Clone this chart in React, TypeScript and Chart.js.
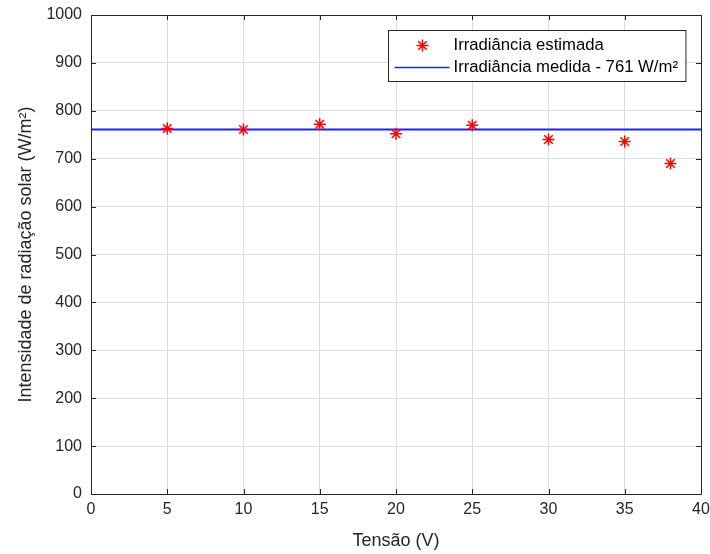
import React, { useEffect, useRef } from "react";
import { Chart, registerables } from "chart.js";

Chart.register(...registerables);

const voltages = [5, 10, 15, 20, 25, 30, 35, 38];
const estimated = [763, 761, 772, 752, 770, 740, 736, 690];
const measured = 761;
const xRange = [0, 40];
const labelEstimated = "Irradiância estimada";
const labelMeasured = "Irradiância medida - 761 W/m²";
const xTitle = "Tensão (V)";
const yTitle = "Intensidade de radiação solar (W/m²)";

const FONT = "'Liberation Sans', Arial, sans-serif";
const AXIS = "#262626";

const framePlugin = {
  id: "frame",
  afterDraw(chart: any) {
    const { ctx, chartArea: a, scales } = chart;
    ctx.save();
    ctx.strokeStyle = AXIS;
    ctx.lineWidth = 1;
    ctx.beginPath();
    ctx.rect(Math.round(a.left) + 0.5, Math.round(a.top) + 0.5, Math.round(a.right - a.left), Math.round(a.bottom - a.top));
    ctx.stroke();
    const tl = 5;
    ctx.beginPath();
    scales.x.ticks.forEach((t: any) => {
      const px = Math.round(scales.x.getPixelForValue(t.value)) + 0.5;
      ctx.moveTo(px, a.bottom);
      ctx.lineTo(px, a.bottom - tl);
      ctx.moveTo(px, a.top);
      ctx.lineTo(px, a.top + tl);
    });
    scales.y.ticks.forEach((t: any) => {
      const py = Math.round(scales.y.getPixelForValue(t.value)) + 0.5;
      ctx.moveTo(a.left, py);
      ctx.lineTo(a.left + tl, py);
      ctx.moveTo(a.right, py);
      ctx.lineTo(a.right - tl, py);
    });
    ctx.stroke();
    ctx.restore();
  },
};

const legendPlugin = {
  id: "boxLegend",
  afterDatasetsDraw(chart: any) {
    const { ctx, chartArea: a } = chart;
    const ds = chart.data.datasets;
    ctx.save();
    ctx.font = `16.7px ${FONT}`;
    const tw = Math.max(...ds.map((d: any) => ctx.measureText(d.label).width));
    const w = 65 + tw + 8;
    const h = 51;
    const right = a.right - 16;
    const left = Math.round(right - w) + 0.5;
    const top = Math.round(a.top + 15) + 0.5;
    ctx.fillStyle = "#ffffff";
    ctx.fillRect(left, top, w, h);
    ctx.strokeStyle = AXIS;
    ctx.lineWidth = 1;
    ctx.strokeRect(left, top, w, h);
    const y1 = top + 15;
    const y2 = top + 37;
    const sx = left + 34;
    const r = 6;
    ctx.strokeStyle = ds[0].borderColor;
    ctx.lineWidth = 1.5;
    ctx.beginPath();
    for (let k = 0; k < 4; k++) {
      const ang = (k * Math.PI) / 4;
      ctx.moveTo(sx - r * Math.cos(ang), y1 - r * Math.sin(ang));
      ctx.lineTo(sx + r * Math.cos(ang), y1 + r * Math.sin(ang));
    }
    ctx.stroke();
    ctx.strokeStyle = ds[1].borderColor;
    ctx.lineWidth = 1.5;
    ctx.beginPath();
    ctx.moveTo(left + 6, y2);
    ctx.lineTo(left + 61, y2);
    ctx.stroke();
    ctx.fillStyle = "#000000";
    ctx.textBaseline = "middle";
    ctx.textAlign = "left";
    ctx.fillText(ds[0].label, left + 65, y1);
    ctx.fillText(ds[1].label, left + 65, y2);
    ctx.restore();
  },
};

export default function App() {
  const ref = useRef<HTMLCanvasElement | null>(null);
  useEffect(() => {
    if (!ref.current) return;
    const chart = new Chart(ref.current, {
      type: "scatter",
      data: {
        datasets: [
          {
            label: labelEstimated,
            data: voltages.map((v, i) => ({ x: v, y: estimated[i] })),
            pointStyle: "star",
            pointRadius: 6,
            pointHoverRadius: 6,
            borderColor: "#ff0000",
            backgroundColor: "#ff0000",
            pointBorderWidth: 1.5,
            showLine: false,
            order: 0,
          },
          {
            type: "line",
            label: labelMeasured,
            data: xRange.map((x) => ({ x, y: measured })),
            borderColor: "#2020ff",
            borderWidth: 2,
            pointRadius: 0,
            showLine: true,
            order: 1,
          },
        ],
      } as any,
      options: {
        animation: false,
        responsive: false,
        maintainAspectRatio: false,
        layout: { padding: { left: 0, right: 9, top: 15, bottom: 0 } },
        plugins: { legend: { display: false }, tooltip: { enabled: false } },
        scales: {
          x: {
            type: "linear",
            min: 0,
            max: 40,
            ticks: { stepSize: 5, color: AXIS, font: { family: FONT, size: 16 }, padding: 6, maxRotation: 0, callback: (v: any) => String(v) },
            grid: { color: "#dedede", drawTicks: false },
            border: { display: false },
            title: { display: true, text: xTitle, color: AXIS, font: { family: FONT, size: 18 }, padding: { top: 0, bottom: 2 } },
            afterFit: (s: any) => { s.height = 60; s.paddingLeft = 0; s.paddingRight = 0; },
          },
          y: {
            type: "linear",
            min: 0,
            max: 1000,
            ticks: { stepSize: 100, color: AXIS, font: { family: FONT, size: 16 }, padding: 9, callback: (v: any) => String(v) },
            grid: { color: "#dedede", drawTicks: false },
            border: { display: false },
            title: { display: true, text: yTitle, color: AXIS, font: { family: FONT, size: 18 }, padding: { top: 15, bottom: 0 } },
            afterFit: (s: any) => { s.width = 91; s.paddingTop = 0; s.paddingBottom = 0; },
          },
        },
      } as any,
      plugins: [framePlugin, legendPlugin],
    });
    return () => chart.destroy();
  }, []);
  return (
    <div style={{ position: "fixed", left: 0, top: 0, width: 710, height: 554, background: "#fff" }}>
      <canvas ref={ref} width={710} height={554} style={{ width: 710, height: 554 }} />
    </div>
  );
}
